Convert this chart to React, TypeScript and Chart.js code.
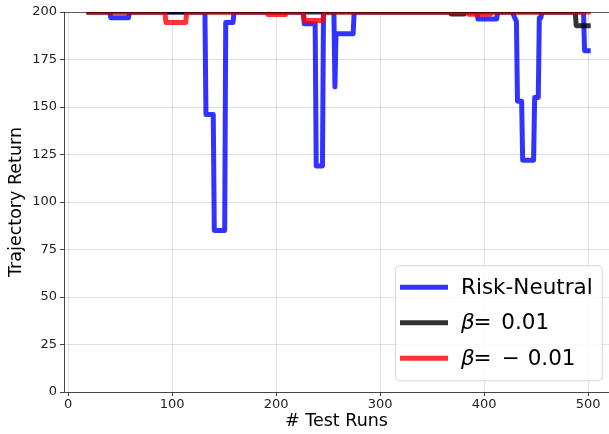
import React, { useEffect, useRef } from 'react';
import { Chart, registerables } from 'chart.js';

Chart.register(...registerables);

const FONT = '"DejaVu Sans", "Liberation Sans", sans-serif';

// ---- data ----
const seriesLabels = ['Risk-Neutral', 'β=0.01', 'β=−0.01'];
const seriesColors = ['rgba(0,0,255,0.8)', 'rgba(0,0,0,0.8)', 'rgba(255,0,0,0.8)'];

const riskNeutralX = [20, 40, 41, 58, 59, 131.5, 132.5, 139.5, 140.5, 150.5, 151.5, 158.5, 159.5, 226, 227, 237.5, 238.5, 244.5, 245.5, 255.5, 256.5, 257.5, 274, 275, 393, 394, 412, 413, 427, 431, 432, 436, 437, 447.5, 448.5, 452, 453, 454.5, 455.5, 495.5, 496.5, 500];
const riskNeutralY = [200, 200, 197, 197, 200, 200, 146, 146, 85, 85, 194.5, 194.5, 200, 200, 193.8, 193.8, 119, 119, 200, 200, 160.5, 188.5, 188.5, 200, 200, 196.3, 196.3, 200, 200, 195, 153, 153, 122, 122, 155, 155, 197, 197, 200, 200, 179.6, 179.6];

const betaPosX = [20, 367, 368, 381, 382, 487.5, 488.5, 500];
const betaPosY = [200, 200, 199, 199, 200, 200, 192.8, 192.8];

const betaNegX = [20, 93, 94, 113, 114, 191, 192, 209, 210, 226, 227, 245, 246, 384, 385, 406, 407, 500];
const betaNegY = [200, 200, 194.5, 194.5, 200, 200, 198.7, 198.7, 200, 200, 195.5, 195.5, 200, 200, 198.8, 198.8, 200, 200];

const xTickValues = [0, 100, 200, 300, 400, 500];
const yTickValues = [0, 25, 50, 75, 100, 125, 150, 175, 200];

const xLabel = '# Test Runs';
const yLabel = 'Trajectory Return';

function toPoints(xs: number[], ys: number[]) {
  return xs.map((x, i) => ({ x, y: ys[i] }));
}

const topSpinePlugin = {
  id: 'topSpine',
  afterDatasetsDraw(chart: any) {
    const { ctx, chartArea } = chart;
    ctx.save();
    ctx.strokeStyle = 'rgba(0,0,0,0.6)';
    ctx.lineWidth = 1;
    ctx.beginPath();
    ctx.moveTo(chartArea.left, Math.round(chartArea.top) + 0.5);
    ctx.lineTo(chartArea.right, Math.round(chartArea.top) + 0.5);
    ctx.stroke();
    ctx.restore();
  },
};

function drawLabel(ctx: CanvasRenderingContext2D, label: string, x: number, y: number, fs: number) {
  const upright = `${fs}px ${FONT}`;
  if (label.startsWith('β')) {
    ctx.font = `italic ${fs}px ${FONT}`;
    ctx.fillText('β', x, y);
    ctx.font = upright;
    ctx.fillText('=', x + 0.58 * fs, y);
    const rest = label.slice(label.indexOf('=') + 1);
    if (rest.startsWith('−')) {
      ctx.fillText('−', x + 1.88 * fs, y);
      ctx.fillText(rest.slice(1), x + 3.1 * fs, y);
    } else {
      ctx.fillText(rest, x + 1.87 * fs, y);
    }
  } else {
    ctx.font = upright;
    ctx.fillText(label, x, y);
  }
}

const boxLegendPlugin = {
  id: 'boxLegend',
  afterDraw(chart: any) {
    const { ctx, chartArea } = chart;
    const datasets = chart.data.datasets;
    const fs = 21.5;
    const rowH = 35.5;
    const right = chartArea.right - 7.3;
    const bottom = chartArea.bottom - 11.7;
    const width = 206.7;
    const left = right - width;
    const margin = 22;
    const height = (datasets.length - 1) * rowH + 2 * margin;
    const top = bottom - height;
    ctx.save();
    ctx.beginPath();
    ctx.roundRect(left + 0.5, top + 0.5, width, height, 4);
    ctx.fillStyle = 'rgba(255,255,255,0.8)';
    ctx.fill();
    ctx.strokeStyle = 'rgba(204,204,204,0.8)';
    ctx.lineWidth = 1;
    ctx.stroke();
    datasets.forEach((ds: any, i: number) => {
      const cy = top + margin + i * rowH;
      ctx.beginPath();
      ctx.strokeStyle = ds.borderColor;
      ctx.lineWidth = 5;
      ctx.lineCap = 'butt';
      ctx.moveTo(left + 5, cy);
      ctx.lineTo(left + 53, cy);
      ctx.stroke();
      ctx.fillStyle = '#000';
      ctx.textBaseline = 'middle';
      ctx.textAlign = 'left';
      drawLabel(ctx, ds.label, left + 66, cy + 1, fs);
    });
    ctx.restore();
  },
};

export default function App() {
  const ref = useRef<HTMLCanvasElement>(null);
  useEffect(() => {
    if (!ref.current) return;
    const xs = [riskNeutralX, betaPosX, betaNegX];
    const ys = [riskNeutralY, betaPosY, betaNegY];
    const chart = new Chart(ref.current, {
      type: 'line',
      data: {
        datasets: seriesLabels.map((label, i) => ({
          label,
          data: toPoints(xs[i], ys[i]),
          borderColor: seriesColors[i],
          backgroundColor: seriesColors[i],
          borderWidth: 5,
          pointRadius: 0,
          fill: false,
          tension: 0,
          clip: 0,
          order: 3 - i,
          borderJoinStyle: 'round',
          borderCapStyle: 'square',
        })) as any,
      },
      options: {
        responsive: false,
        animation: false,
        devicePixelRatio: 1,
        layout: { padding: { top: 12, left: 0, right: 0, bottom: 0 } },
        plugins: { legend: { display: false }, tooltip: { enabled: false } },
        scales: {
          x: {
            type: 'linear',
            min: -4,
            max: 520,
            afterBuildTicks: (s: any) => {
              s.ticks = xTickValues.map((v) => ({ value: v }));
            },
            afterFit: (s: any) => {
              s.height = 42;
            },
            grid: { color: 'rgba(0,0,0,0.12)', tickColor: '#444', tickLength: 4, lineWidth: 1 },
            border: { color: '#444', width: 1 },
            ticks: { font: { family: FONT, size: 13 }, color: '#222', padding: 1, maxRotation: 0, autoSkip: false },
            title: { display: true, text: xLabel, font: { family: FONT, size: 17.5 }, color: '#000', padding: { top: 0, bottom: 2.5 } },
          },
          y: {
            type: 'linear',
            min: 0,
            max: 200,
            afterBuildTicks: (s: any) => {
              s.ticks = yTickValues.map((v) => ({ value: v }));
            },
            afterFit: (s: any) => {
              s.width = 64;
            },
            grid: { color: 'rgba(0,0,0,0.12)', tickColor: '#444', tickLength: 4, lineWidth: 1 },
            border: { color: '#444', width: 1 },
            ticks: { font: { family: FONT, size: 13 }, color: '#222', padding: 3, autoSkip: false },
            title: { display: true, text: yLabel, font: { family: FONT, size: 17.5 }, color: '#000', padding: { top: 5.5, bottom: 0 } },
          },
        },
      },
      plugins: [topSpinePlugin, boxLegendPlugin],
    });
    return () => chart.destroy();
  }, []);
  return (
    <div style={{ position: 'fixed', left: 0, top: 0, width: 609, height: 434, background: '#fff' }}>
      <canvas ref={ref} width={609} height={434} style={{ display: 'block', width: 609, height: 434 }} />
    </div>
  );
}
